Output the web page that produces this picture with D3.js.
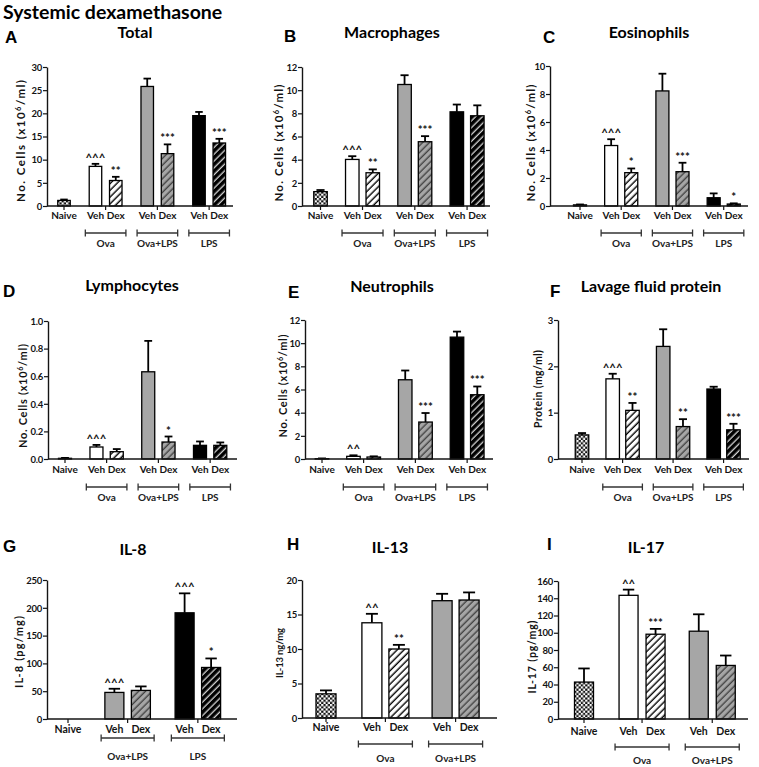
<!DOCTYPE html>
<html><head><meta charset="utf-8">
<script src="https://cdn.jsdelivr.net/npm/d3@7"></script>
<style>body{margin:0;background:#fff}</style>
</head><body>
<svg id="c" width="759" height="767"></svg>
<script>
// ---------------- DATA ----------------
const catsFull   = ["Naive","Veh","Dex","Veh","Dex","Veh","Dex"];
const groupsFull = ["","Ova","Ova","Ova+LPS","Ova+LPS","LPS","LPS"];
const treatFull  = ["naive","veh","dex","olveh","oldex","lpsveh","lpsdex"];

const catsG   = ["Naive","Veh","Dex","Veh","Dex"];
const groupsG = ["","Ova+LPS","Ova+LPS","LPS","LPS"];
const treatG  = ["naive","olveh","oldex","lpsveh","lpsdex"];

const catsHI   = ["Naive","Veh","Dex","Veh","Dex"];
const groupsHI = ["","Ova","Ova","Ova+LPS","Ova+LPS"];
const treatHI  = ["naive","veh","dex","olveh","oldex"];

const totalMean = [1.2, 8.55, 5.5, 25.8, 11.3, 19.5, 13.6];
const totalErr  = [0.2, 0.55, 0.8, 1.7, 2.0, 0.8, 0.9];
const totalSig  = ["","^^^","**","","***","","***"];
const totalTicks = [0,5,10,15,20,25,30];

const macroMean = [1.24, 4.02, 2.87, 10.49, 5.55, 8.13, 7.79];
const macroErr  = [0.14, 0.28, 0.29, 0.8, 0.48, 0.63, 0.9];
const macroSig  = ["","^^^","**","","***","",""];
const macroTicks = [0,2,4,6,8,10,12];

const eosMean = [0.08, 4.32, 2.38, 8.22, 2.45, 0.59, 0.14];
const eosErr  = [0.03, 0.45, 0.3, 1.23, 0.64, 0.31, 0.05];
const eosSig  = ["","^^^","*","","***","","*"];
const eosTicks = [0,2,4,6,8,10];

const lymMean = [0.005, 0.087, 0.053, 0.632, 0.123, 0.099, 0.099];
const lymErr  = [0.003, 0.015, 0.019, 0.224, 0.04, 0.028, 0.021];
const lymSig  = ["","^^^","","","*","",""];
const lymTicks = [0,0.2,0.4,0.6,0.8,1.0];

const neuMean = [0.03, 0.23, 0.17, 6.84, 3.19, 10.52, 5.55];
const neuErr  = [0.02, 0.09, 0.06, 0.8, 0.78, 0.48, 0.71];
const neuSig  = ["","^^","","","***","","***"];
const neuTicks = [0,2,4,6,8,10,12];

const protMean = [0.52, 1.73, 1.05, 2.43, 0.70, 1.51, 0.63];
const protErr  = [0.04, 0.11, 0.16, 0.37, 0.16, 0.05, 0.13];
const protSig  = ["","^^^","**","","**","","***"];
const protTicks = [0,1,2,3];

const il8Mean = [null, 47.8, 51.4, 191, 92.7];
const il8Err  = [0, 6.6, 7.2, 35, 16.2];
const il8Sig  = ["","^^^","","^^^","*"];
const il8Ticks = [0,50,100,150,200,250];

const il13Mean = [3.5, 13.8, 10.0, 17.0, 17.1];
const il13Err  = [0.5, 1.3, 0.6, 1.0, 1.1];
const il13Sig  = ["","^^","**","",""];
const il13Ticks = [0,5,10,15,20];

const il17Mean = [42.8, 143.4, 98.3, 101.8, 62.1];
const il17Err  = [15.8, 6.6, 6.2, 19.6, 11.5];
const il17Sig  = ["","^^","***","",""];
const il17Ticks = [0,20,40,60,80,100,120,140,160];

const mainTitle = "Systemic dexamethasone";

// ---------------- RENDER ----------------
const svg = d3.select("#c");
const defs = svg.append("defs");
const GREY = "#a6a6a6";
const INK = "#141414";
const FONT = "Lato, 'Open Sans', sans-serif";

function hatch(id, bg, fg, sw) {
  const p = defs.append("pattern").attr("id", id).attr("patternUnits","userSpaceOnUse")
    .attr("width",4.8).attr("height",4.8).attr("patternTransform","rotate(45)");
  p.append("rect").attr("width",4.8).attr("height",4.8).attr("fill",bg);
  p.append("line").attr("x1",1.2).attr("y1",-1).attr("x2",1.2).attr("y2",6).attr("stroke",fg).attr("stroke-width",sw);
}
hatch("hWhite","#fff","#000",1.4);
hatch("hGrey",GREY,"#3c3c3c",1.3);
hatch("hBlack","#000","#fff",1.1);
const chk = defs.append("pattern").attr("id","chk").attr("patternUnits","userSpaceOnUse").attr("width",4.4).attr("height",4.4);
chk.append("rect").attr("width",4.4).attr("height",4.4).attr("fill","#111");
chk.append("rect").attr("width",2.2).attr("height",2.2).attr("fill","#fff");
chk.append("rect").attr("x",2.2).attr("y",2.2).attr("width",2.2).attr("height",2.2).attr("fill","#fff");

const fillOf = {naive:"url(#chk)", veh:"#fff", dex:"url(#hWhite)", olveh:GREY, oldex:"url(#hGrey)", lpsveh:"#000", lpsdex:"url(#hBlack)"};

svg.append("text").attr("x",3).attr("y",19).attr("font-family",FONT).attr("font-weight",700)
  .attr("font-size",19.5).attr("fill","#000").text(mainTitle);

function panel(L, D) {
  const g = svg.append("g");
  const y = d3.scaleLinear().domain([0, d3.max(D.ticks)]).range([L.y0, L.yTop]);
  const x = d3.scaleLinear().domain([0,1]).range([L.axisX + L.start, L.axisX + L.start + L.unit]);
  const pos = L.slots;

  // letter + title
  g.append("text").attr("x",L.letter[0]).attr("y",L.letter[1]).attr("font-family","'Liberation Sans', Arial, sans-serif")
    .attr("font-weight",700).attr("font-size",17).attr("fill","#000").text(D.letter);
  g.append("text").attr("x",L.title[0]).attr("y",L.title[1]).attr("text-anchor","middle").attr("font-family",FONT)
    .attr("font-weight",700).attr("font-size",16).attr("fill","#000").text(D.title);

  // y label
  const fs = L.ylabFs || 11;
  const yl = g.append("text").attr("transform",`translate(${L.ylab[0]},${L.ylab[1]}) rotate(-90)`)
    .attr("text-anchor","middle").attr("font-family",FONT).attr("font-weight",700)
    .attr("font-size",fs).attr("fill",INK)
    .attr("textLength",L.ylab[2]).attr("lengthAdjust","spacing");
  const parts = D.ylabel.split("^");
  if (parts.length === 1) yl.text(parts[0]);
  else {
    yl.append("tspan").text(parts[0]);
    yl.append("tspan").attr("font-size",fs*0.65).attr("dy",-4).text(parts[1].charAt(0));
    yl.append("tspan").attr("dy",4).text(parts[1].slice(1));
  }

  // y axis
  const ya = d3.axisLeft(y).tickValues(D.ticks).tickSize(4).tickSizeOuter(0).tickFormat(D.fmt || d3.format("d"));
  const ag = g.append("g").attr("transform",`translate(${L.axisX},0)`).call(ya);
  ag.select(".domain").attr("stroke",INK).attr("stroke-width",1.4);
  ag.selectAll(".tick line").attr("stroke",INK).attr("stroke-width",1.2);
  ag.selectAll(".tick text").attr("font-family",FONT).attr("font-weight",700).attr("font-size",9.5)
    .attr("fill",INK).attr("x",-5).attr("dy","0.34em").attr("letter-spacing",-0.3);

  // bars
  D.mean.forEach((m,i) => {
    if (m == null) return;
    const cx = x(pos[i]);
    const w = L.barW;
    g.append("rect").attr("x",cx - w/2).attr("y",y(m)).attr("width",w).attr("height",y(0)-y(m))
      .attr("fill",fillOf[D.treat[i]]).attr("stroke","#000").attr("stroke-width",1.3);
    const top = y(m + D.err[i]);
    g.append("line").attr("x1",cx).attr("x2",cx).attr("y1",y(m)).attr("y2",top).attr("stroke","#000").attr("stroke-width",1.8);
    g.append("line").attr("x1",cx - w*0.3).attr("x2",cx + w*0.3).attr("y1",top).attr("y2",top).attr("stroke","#000").attr("stroke-width",1.8);
    if (D.sig[i]) {
      g.append("text").attr("x",cx).attr("y",top - 2).attr("text-anchor","middle").attr("font-family",FONT)
        .attr("font-weight",700).attr("font-size",11.5).attr("fill",INK).text(D.sig[i]);
    }
  });

  // x axis line
  g.append("line").attr("x1",L.axisX).attr("x2",L.axisEnd).attr("y1",L.y0).attr("y2",L.y0)
    .attr("stroke",INK).attr("stroke-width",1.4);

  // group structure
  const gnames = [];
  D.groups.forEach((gn,i) => { const key = gn || ("_" + i); if (!gnames.find(o=>o.key===key)) gnames.push({key, name:gn, idx:[]}); gnames.find(o=>o.key===key).idx.push(i); });
  gnames.forEach(o => {
    const xs = o.idx.map(i => x(pos[i]));
    const mid = d3.mean(xs);
    g.append("line").attr("x1",mid).attr("x2",mid).attr("y1",L.y0).attr("y2",L.y0+4).attr("stroke",INK).attr("stroke-width",1.2);
    if (o.name) {
      const x1 = d3.min(xs) - L.unit*0.5, x2 = d3.max(xs) + L.unit*0.5;
      g.append("line").attr("x1",x1).attr("x2",x2).attr("y1",L.by).attr("y2",L.by).attr("stroke","#333").attr("stroke-width",1.3);
      [x1,x2].forEach(xx => g.append("line").attr("x1",xx).attr("x2",xx).attr("y1",L.by-3.5).attr("y2",L.by+3.5).attr("stroke","#333").attr("stroke-width",1.3));
      g.append("text").attr("x",(x1+x2)/2).attr("y",L.gy).attr("text-anchor","middle").attr("font-family",FONT)
        .attr("font-weight",700).attr("font-size",10).attr("fill","#222").text(o.name);
    }
  });

  // category labels
  D.cats.forEach((c,i) => {
    g.append("text").attr("x",x(pos[i])).attr("y",L.xly).attr("text-anchor","middle").attr("font-family",FONT)
      .attr("font-weight",700).attr("font-size",L.xlFs || 10).attr("fill",INK).text(c);
  });
}

const slots7 = [0,1.55,2.55,4.1,5.1,6.65,7.65];
const cellsLabel = "No.  Cells (x10^6/ml)";

// Row 1
const r1 = {yTop:67, y0:206, xly:219, by:233, gy:247, slots:slots7, ylabFs:11.5};
panel({...r1, axisX:47, axisEnd:233, start:17, unit:20.3, barW:12.5, letter:[5,43], title:[135,38], ylab:[25,141,122]},
  {cats:catsFull, groups:groupsFull, treat:treatFull, mean:totalMean, err:totalErr, sig:totalSig, ticks:totalTicks, title:"Total", letter:"A", ylabel:cellsLabel});
panel({...r1, axisX:302, axisEnd:490, start:18.5, unit:20.5, barW:13.5, letter:[284,42], title:[392,38], ylab:[283,143,117]},
  {cats:catsFull, groups:groupsFull, treat:treatFull, mean:macroMean, err:macroErr, sig:macroSig, ticks:macroTicks, title:"Macrophages", letter:"B", ylabel:cellsLabel});
panel({...r1, yTop:66, axisX:550, axisEnd:748, start:30, unit:20.1, barW:13, letter:[543,43], title:[649,38], ylab:[535,143,117]},
  {cats:catsFull, groups:groupsFull, treat:treatFull, mean:eosMean, err:eosErr, sig:eosSig, ticks:eosTicks, title:"Eosinophils", letter:"C", ylabel:cellsLabel});

// Row 2
const r2 = {yTop:321, y0:459, xly:473, by:487, gy:501, slots:slots7, ylabFs:11};
panel({...r2, axisX:48, axisEnd:237, start:17, unit:20.3, barW:13, letter:[3,297], title:[132,291], ylab:[27,396,104]},
  {cats:catsFull, groups:groupsFull, treat:treatFull, mean:lymMean, err:lymErr, sig:lymSig, ticks:lymTicks, fmt:d3.format(".1f"), title:"Lymphocytes", letter:"D", ylabel:cellsLabel});
panel({...r2, yTop:320, axisX:305, axisEnd:493, start:17, unit:20.3, barW:13.5, letter:[288,298], title:[392,292], ylab:[287,386,103]},
  {cats:catsFull, groups:groupsFull, treat:treatFull, mean:neuMean, err:neuErr, sig:neuSig, ticks:neuTicks, title:"Neutrophils", letter:"E", ylabel:cellsLabel});
panel({...r2, yTop:320, axisX:558, axisEnd:749, start:24, unit:19.8, barW:13.5, letter:[550,297], title:[651,292], ylab:[542,389,78], ylabFs:10.5},
  {cats:catsFull, groups:groupsFull, treat:treatFull, mean:protMean, err:protErr, sig:protSig, ticks:protTicks, title:"Lavage fluid protein", letter:"F", ylabel:"Protein (mg/ml)"});

// Row 3
panel({yTop:580, y0:719, xly:733, by:738, gy:760, xlFs:10.5, slots:[0,1.75,2.75,4.4,5.4], axisX:47, axisEnd:237, start:21, unit:26.5, barW:19, letter:[3,552], title:[133,555], ylab:[23,652,72], ylabFs:11},
  {cats:catsG, groups:groupsG, treat:treatG, mean:il8Mean, err:il8Err, sig:il8Sig, ticks:il8Ticks, title:"IL-8", letter:"G", ylabel:"IL-8 (pg/mg)"});
panel({yTop:580, y0:718, xly:731, by:744, gy:762, xlFs:10.5, slots:[0,1.7,2.7,4.3,5.3], axisX:302, axisEnd:497, start:24, unit:27, barW:20, letter:[287,550], title:[390,553], ylab:[283,653,50], ylabFs:9.5},
  {cats:catsHI, groups:groupsHI, treat:treatHI, mean:il13Mean, err:il13Err, sig:il13Sig, ticks:il13Ticks, title:"IL-13", letter:"H", ylabel:"IL-13 ng/mg"});
panel({yTop:581, y0:719, xly:735, by:747, gy:764, xlFs:10.5, slots:[0,1.65,2.65,4.25,5.25], axisX:558, axisEnd:748, start:26, unit:27, barW:19, letter:[547,550], title:[646,553], ylab:[536,657,73], ylabFs:10.5},
  {cats:catsHI, groups:groupsHI, treat:treatHI, mean:il17Mean, err:il17Err, sig:il17Sig, ticks:il17Ticks, title:"IL-17", letter:"I", ylabel:"IL-17 (pg/mg)"});
</script>
</body></html>
